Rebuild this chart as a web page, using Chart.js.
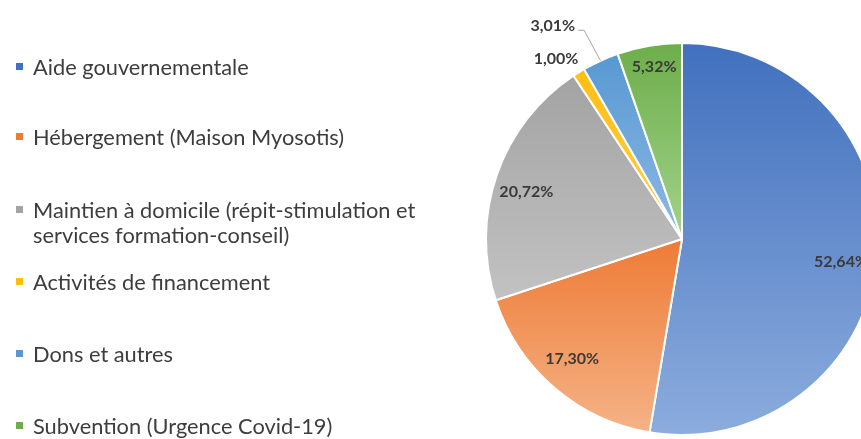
<!DOCTYPE html>
<html>
<head>
<meta charset="utf-8">
<script src="https://cdn.jsdelivr.net/npm/chart.js@4/dist/chart.umd.min.js"></script>
<style>
  html, body { margin: 0; padding: 0; background: #ffffff; }
  #wrap { position: relative; width: 861px; height: 439px; overflow: hidden; }
  #c { position: absolute; left: 0; top: 0; }
  #legend { position: absolute; left: 0; top: 0; width: 470px; height: 439px; font-family: Lato, "Open Sans", sans-serif; font-size: 21.8px; color: #3d3d3d; }
  .item { position: absolute; left: 33px; line-height: 25px; white-space: nowrap; }
  .mark { position: absolute; left: -17px; top: 9px; width: 7px; height: 7px; }
</style>
</head>
<body>
<div id="wrap">
  <canvas id="c" width="900" height="439"></canvas>
  <div id="legend"></div>
</div>
<script>
// ---- data ----
const categories = [
  "Aide gouvernementale",
  "Hébergement (Maison Myosotis)",
  "Maintien à domicile (répit-stimulation et\nservices formation-conseil)",
  "Activités de financement",
  "Dons et autres",
  "Subvention (Urgence Covid-19)"
];
const shares = [52.64, 17.30, 20.72, 1.00, 3.01, 5.32];

// ---- styling ----
const topColors    = ["#4170BE", "#EE7B36", "#A3A3A3", "#FFBE10", "#5798D3", "#6DAD4A"];
const bottomColors = ["#8CACDD", "#F5B387", "#C2C2C2", "#FFD04A", "#8DBAE3", "#A2D38B"];
const legendTops = [54, 124, 197, 269, 341, 413];
// label placement per slice: radius fraction, angle shift (deg), leader line
const labelPlacement = [
  {r: 0.82, da: 3.5},
  {r: 0.83, da: 1.8},
  {r: 0.83, da: -2.2},
  {r: 1.12, da: -3.2},
  {r: 1.27, da: -6.7, leader: true},
  {r: 0.89, da: 0.4}
];

// legend (HTML text)
const legend = document.getElementById('legend');
categories.forEach((name, i) => {
  const d = document.createElement('div');
  d.className = 'item';
  d.style.top = legendTops[i] + 'px';
  const m = document.createElement('span');
  m.className = 'mark';
  m.style.background = topColors[i];
  d.appendChild(m);
  name.split('\n').forEach((line, k) => {
    if (k > 0) d.appendChild(document.createElement('br'));
    d.appendChild(document.createTextNode(line));
  });
  legend.appendChild(d);
});

const total = shares.reduce((a, b) => a + b, 0);

function sliceGradient(ctx) {
  const chart = ctx.chart;
  const area = chart.chartArea;
  const i = ctx.dataIndex;
  if (!area) return topColors[i];
  const cx = (area.left + area.right) / 2;
  const cy = (area.top + area.bottom) / 2;
  const r = Math.min(area.right - area.left, area.bottom - area.top) / 2;
  let start = 0;
  for (let k = 0; k < i; k++) start += shares[k];
  const a0 = start / total * 2 * Math.PI;
  const a1 = (start + shares[i]) / total * 2 * Math.PI;
  let ys = [cy, cy - r * Math.cos(a0), cy - r * Math.cos(a1)];
  if (a0 <= 0 && a1 >= 0) ys.push(cy - r);
  if (a0 <= Math.PI && a1 >= Math.PI) ys.push(cy + r);
  const y0 = Math.min(...ys), y1 = Math.max(...ys);
  const g = chart.ctx.createLinearGradient(0, y0, 0, y1 + 0.01);
  g.addColorStop(0, topColors[i]);
  g.addColorStop(1, bottomColors[i]);
  return g;
}

const labelPlugin = {
  id: 'pctLabels',
  afterDatasetsDraw(chart) {
    const meta = chart.getDatasetMeta(0);
    const c = chart.ctx;
    c.save();
    c.font = 'bold 16px Lato, "Open Sans", sans-serif';
    c.fillStyle = '#3a3a3a';
    c.textBaseline = 'middle';
    meta.data.forEach((arc, i) => {
      const p = arc.getProps(['x', 'y', 'startAngle', 'endAngle', 'outerRadius'], true);
      const pl = labelPlacement[i];
      const mid = (p.startAngle + p.endAngle) / 2 + pl.da * Math.PI / 180;
      const lx = p.x + Math.cos(mid) * p.outerRadius * pl.r;
      const ly = p.y + Math.sin(mid) * p.outerRadius * pl.r;
      const txt = shares[i].toFixed(2).replace('.', ',') + '%';
      c.textAlign = 'center';
      c.fillText(txt, lx, ly);
      if (pl.leader) {
        const w = c.measureText(txt).width;
        const m0 = (p.startAngle + p.endAngle) / 2;
        const ex = p.x + Math.cos(m0) * p.outerRadius;
        const ey = p.y + Math.sin(m0) * p.outerRadius;
        c.strokeStyle = '#A6A6A6';
        c.lineWidth = 1;
        c.beginPath();
        c.moveTo(lx + w / 2 + 3, ly + 4);
        c.lineTo(lx + w / 2 + 9, ly + 4);
        c.lineTo(ex, ey);
        c.stroke();
      }
    });
    c.restore();
  }
};

new Chart(document.getElementById('c'), {
  type: 'pie',
  data: {
    labels: categories,
    datasets: [{
      data: shares,
      backgroundColor: sliceGradient,
      borderColor: '#ffffff',
      borderWidth: 2
    }]
  },
  options: {
    responsive: false,
    devicePixelRatio: 1,
    animation: false,
    layout: { padding: { left: 485, right: 21, top: 42, bottom: 3 } },
    plugins: {
      legend: { display: false },
      tooltip: { enabled: false }
    }
  },
  plugins: [labelPlugin]
});
</script>
</body>
</html>
